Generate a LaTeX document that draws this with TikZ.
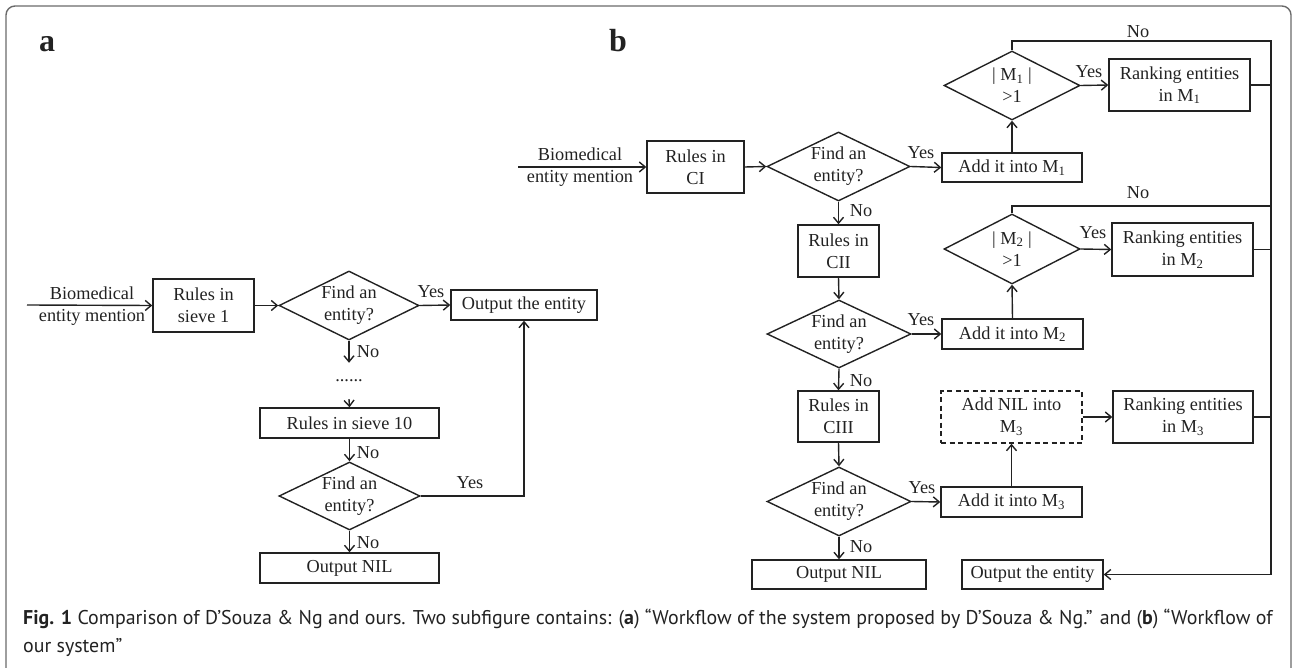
\documentclass[tikz,border=0pt]{standalone}
\usepackage{fontspec}
\setmainfont{Liberation Serif}
\newfontfamily\capfont{PT Sans}
\usetikzlibrary{arrows.meta,shapes.geometric}
\definecolor{ink}{HTML}{222222}
\definecolor{framec}{HTML}{6A6A6A}
\begin{document}
\begin{tikzpicture}[x=1pt,y=-1pt,
  every node/.style={text=ink},
  base/.style={font=\fontsize{18.3}{22}\selectfont, align=center, inner sep=0pt},
  box/.style n args={2}{base, draw=ink, line width=1.4pt, rectangle, minimum width=#1pt, minimum height=#2pt},
  dbox/.style n args={2}{box={#1}{#2}, dashed, dash pattern=on 5pt off 3.5pt},
  dia/.style n args={3}{shape=diamond, draw=ink, line width=1.4pt, inner sep=0pt, minimum width=#1pt, minimum height=#2pt, label={[base]center:#3}},
  lbl/.style={font=\fontsize{18.3}{22}\selectfont, inner sep=0pt},
  panel/.style={font=\bfseries\fontsize{32}{34}\selectfont, inner sep=0pt, anchor=base west},
  arr/.style={draw=ink, line width=1.4pt, -{Straight Barb[length=6pt,width=10pt]}},
  ln/.style={draw=ink, line width=1.4pt},
  capstyle/.style={font=\capfont\fontsize{19.9}{24}\selectfont, inner sep=0pt, anchor=base west}
]
\useasboundingbox (0,0) rectangle (1292,668);
\draw[framec, line width=1.4pt, rounded corners=9pt] (6,668) -- (6,6) -- (1291,6) -- (1291,668);

% ---------- panel a ----------
\node[panel] (pa) at (39,52) {a};
\coordinate (ain) at (27,305);
\node[base] (ainlbl) at (92,306) {Biomedical\\entity mention};
\node[box={101}{53}] (as1) at (203.5,305.5) {Rules in\\sieve 1};
\node[dia={140}{69}{Find an\\entity?}] (ad1) at (349,305.5) {};
\node[box={146}{30}] (aout) at (524,305) {Output the entity};
\node[lbl, minimum height=36pt] (adots) at (349,381) {......};
\node[box={179}{30}] (as10) at (349.5,423) {Rules in sieve 10};
\node[dia={141}{68}{Find an\\entity?}] (ad2) at (349.5,496) {};
\node[box={179}{30}] (anil) at (349.5,568) {Output NIL};

\draw[arr] (ain) -- (as1.west);
\draw[arr] (as1.east) -- (ad1.west);
\draw[arr] (ad1.east) -- (aout.west);
\draw[arr] (ad1.south) -- (adots.north);
\draw[arr] (adots.south) -- (as10.north);
\draw[arr] (as10.south) -- (ad2.north);
\draw[arr] (ad2.south) -- (anil.north);
\draw[arr] (ad2.east) -| (aout.south);
\node[lbl] (ay1) at (431,292) {Yes};
\node[lbl] (ay2) at (470,483) {Yes};
\node[lbl] (an1) at (368,352) {No};
\node[lbl] (an2) at (368,453) {No};
\node[lbl] (an3) at (368,543) {No};

% ---------- panel b ----------
\node[panel] (pb) at (609,52) {b};
\coordinate (bin) at (518,167);
\node[base] (binlbl) at (580,167.5) {Biomedical\\entity mention};
\node[box={97}{52}] (bc1) at (695.5,167) {Rules in\\CI};
\node[dia={143}{69}{Find an\\entity?}] (bd1) at (838.5,166.5) {};
\node[box={140}{29}] (bm1) at (1012,167.5) {Add it into M\textsubscript{1}};
\node[dia={136}{69}{| M\textsubscript{1} |\\>1}] (bdm1) at (1012,85.5) {};
\node[box={141}{52}] (br1) at (1179.5,85) {Ranking entities\\in M\textsubscript{1}};

\node[box={81}{52}] (bc2) at (838.5,251) {Rules in\\CII};
\node[dia={144}{68}{Find an\\entity?}] (bd2) at (839,334) {};
\node[box={141}{30}] (bm2) at (1012.5,334) {Add it into M\textsubscript{2}};
\node[dia={136}{70}{| M\textsubscript{2} |\\>1}] (bdm2) at (1012,249) {};
\node[box={141}{53}] (br2) at (1182.5,249.5) {Ranking entities\\in M\textsubscript{2}};

\node[box={81}{51}] (bc3) at (838.5,416.5) {Rules in\\CIII};
\node[dia={144}{69}{Find an\\entity?}] (bd3) at (839,501.5) {};
\node[box={141}{30}] (bm3) at (1011.5,502) {Add it into M\textsubscript{3}};
\node[dbox={141}{52}] (bnil3) at (1011.5,417) {Add NIL into\\M\textsubscript{3}};
\node[box={140}{52}] (br3) at (1183,417) {Ranking entities\\in M\textsubscript{3}};

\node[box={174}{29}] (bnil) at (839,574.5) {Output NIL};
\node[box={141}{29}] (bout) at (1032.5,574.5) {Output the entity};

\coordinate (vtop) at (1271,41);
\coordinate (vmid) at (1271,206);
\coordinate (vbot) at (1271,574.5);

\draw[arr] (bin) -- (bc1.west);
\draw[arr] (bc1.east) -- (bd1.west);
\draw[arr] (bd1.east) -- (bm1.west);
\draw[arr] (bm1.north) -- (bdm1.south);
\draw[arr] (bdm1.east) -- (br1.west);
\draw[arr] (bd1.south) -- (bc2.north);
\draw[arr] (bc2.south) -- (bd2.north);
\draw[arr] (bd2.east) -- (bm2.west);
\draw[arr] (bm2.north) -- (bdm2.south);
\draw[arr] (bdm2.east) -- (br2.west);
\draw[arr] (bd2.south) -- (bc3.north);
\draw[arr] (bc3.south) -- (bd3.north);
\draw[arr] (bd3.east) -- (bm3.west);
\draw[arr] (bm3.north) -- (bnil3.south);
\draw[arr] (bnil3.east) -- (br3.west);
\draw[arr] (bd3.south) -- (bnil.north);

\draw[arr] (bdm1.north) |- (vtop) -- (vbot) -- (bout.east);
\draw[ln] (bdm2.north) |- (vmid);
\draw[ln] (br1.east) -- (br1.east -| vtop);
\draw[ln] (br2.east) -- (br2.east -| vtop);
\draw[ln] (br3.east) -- (br3.east -| vtop);

\node[lbl] (by1) at (921,153) {Yes};
\node[lbl] (by2) at (921,320) {Yes};
\node[lbl] (by3) at (922,488) {Yes};
\node[lbl] (bym1) at (1089,72) {Yes};
\node[lbl] (bym2) at (1093,233) {Yes};
\node[lbl] (bn1) at (861,211) {No};
\node[lbl] (bn2) at (861,381) {No};
\node[lbl] (bn3) at (861,547) {No};
\node[lbl] (bnm1) at (1138,32) {No};
\node[lbl] (bnm2) at (1138,193) {No};

% ---------- caption ----------
\node[capstyle] (cap1) at (23,624) {\textbf{Fig. 1} Comparison of D’Souza \& Ng and ours. Two subfigure contains: (\textbf{a}) “Workflow of the system proposed by D’Souza \& Ng.” and (\textbf{b}) “Workflow of};
\node[capstyle] (cap2) at (23,652) {our system”};
\end{tikzpicture}
\end{document}
